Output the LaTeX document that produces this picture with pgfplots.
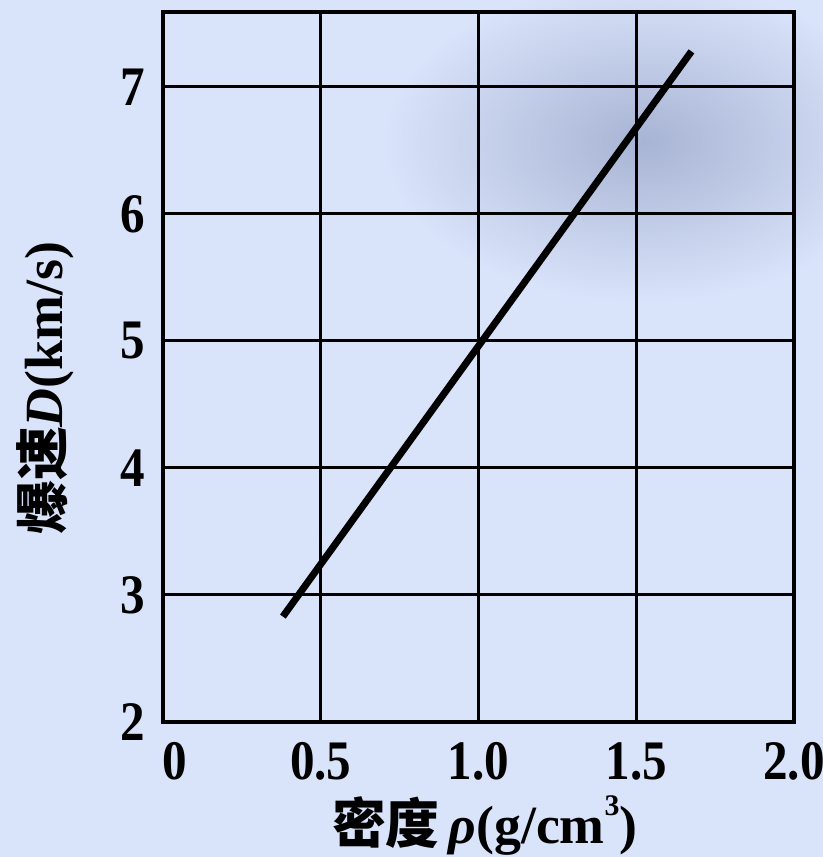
\documentclass[border=0pt]{standalone}
\usepackage{pgfplots}
\pgfplotsset{compat=1.18}
\usepackage{fontspec}
\setmainfont{Liberation Serif}
\newfontfamily\cjk{Noto Sans CJK SC}
\definecolor{bgblue}{RGB}{217,227,250}
\definecolor{blob}{RGB}{168,180,212}
\newcommand{\nx}[1]{\scalebox{0.88}[1]{#1}}
\begin{document}
\begin{tikzpicture}[x=1bp,y=1bp]
\path[use as bounding box, fill=bgblue] (-163,-135) rectangle (660,722);
\begin{scope}
\clip (-163,-135) rectangle (660,722);
\shade[inner color=blob, outer color=bgblue] (480,580) ellipse (260 and 160);
\end{scope}
\begin{axis}[
  at={(0,0)}, anchor=south west,
  scale only axis, width=631bp, height=710bp,
  xmin=0, xmax=2, ymin=2, ymax=7.59,
  xtick={0,0.5,1,1.5,2},
  xticklabels={\makebox[0pt][l]{\nx{0}},\nx{0.5},\nx{1.0},\nx{1.5},\nx{2.0}},
  ytick={2,3,4,5,6,7},
  yticklabels={\nx{2},\nx{3},\nx{4},\nx{5},\nx{6},\nx{7}},
  grid=major,
  major grid style={black, line width=3bp},
  axis line style={black, line width=4bp},
  tick style={draw=none},
  ticklabel style={font=\fontsize{56}{60}\selectfont\bfseries},
  xticklabel style={anchor=north, inner sep=0pt, yshift=-20bp},
  yticklabel style={anchor=east, inner sep=0pt, xshift=-18bp},
  xlabel={{\cjk\bfseries 密度}\,\textbf{\textit{ρ}(g/cm\raisebox{0.52em}{\fontsize{30}{32}\selectfont 3})}},
  ylabel={{\cjk\bfseries 爆速}\textbf{\textit{D}(km/s)}},
  label style={font=\fontsize{54}{60}\selectfont},
  xlabel style={at={(axis description cs:0.51,-0.146)}, anchor=center, inner sep=0pt},
  ylabel style={at={(axis description cs:-0.187,0.47)}, anchor=center, rotate=0},
]
\addplot[black, line width=7bp, line cap=butt] coordinates {(0.38,2.83) (1.675,7.28)};
\end{axis}
\end{tikzpicture}
\end{document}
